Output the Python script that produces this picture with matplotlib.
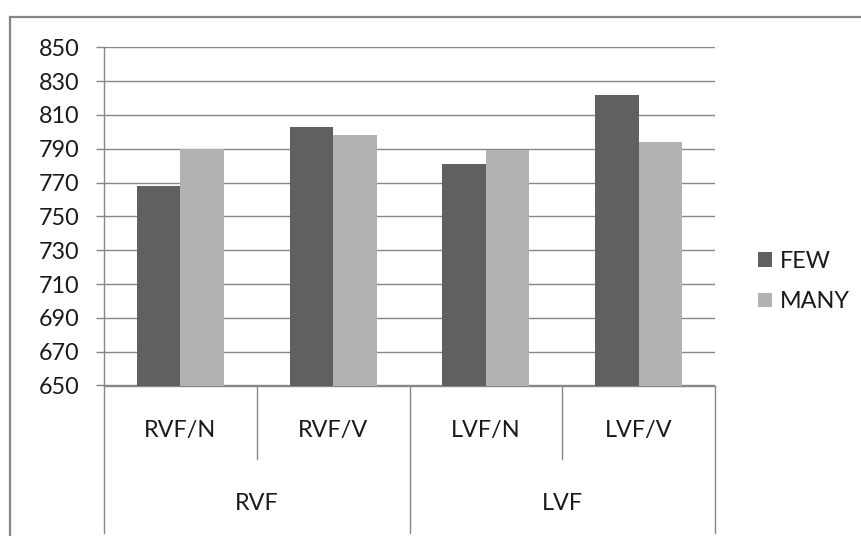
import matplotlib
matplotlib.use("Agg")
import matplotlib.pyplot as plt
from matplotlib.lines import Line2D
import matplotlib.transforms as mtransforms

plt.rcParams['font.family'] = ['Lato', 'DejaVu Sans']

# Data
conditions = ["RVF/N", "RVF/V", "LVF/N", "LVF/V"]
groups = ["RVF", "LVF"]
series_names = ["FEW", "MANY"]
few = [768, 803, 781, 822]
many = [790, 798, 789, 794]
y_ticks = list(range(650, 851, 20))

few_color = "#606060"
many_color = "#b2b2b2"
line_color = "#878787"
text_color = "#1a1a1a"
fs = 16.8

W, H = 862, 536
fig = plt.figure(figsize=(W / 100, H / 100), dpi=100)
fig.patch.set_facecolor("white")

# Plot area in pixels: x 104..715, y 47..385.5
ax = fig.add_axes([104 / W, (H - 385.5) / H, (715 - 104) / W, (385.5 - 47.3) / H])

x = list(range(len(conditions)))
bw = 0.284
b1 = ax.bar([i - bw / 2 for i in x], few, width=bw, bottom=0, color=few_color,
            label=series_names[0], zorder=3)
b2 = ax.bar([i + bw / 2 for i in x], many, width=bw, color=many_color,
            label=series_names[1], zorder=3)

ax.set_ylim(650, 850)
ax.set_xlim(-0.5, len(conditions) - 0.5)
ax.set_yticks(y_ticks)
ax.set_yticklabels([str(v) for v in y_ticks], fontsize=fs, color=text_color)
ax.set_xticks([])
ax.grid(axis="y", color=line_color, linewidth=1.0, zorder=0)
ax.set_axisbelow(True)
ax.tick_params(axis="y", length=5.5, width=1.0, color=line_color, pad=12)

for side in ["top", "right"]:
    ax.spines[side].set_visible(False)
ax.spines["left"].set_color(line_color)
ax.spines["bottom"].set_color(line_color)
ax.spines["left"].set_linewidth(1.0)
ax.spines["bottom"].set_linewidth(1.0)

# Two-level category axis below the plot
trans = mtransforms.blended_transform_factory(ax.transData, ax.transAxes)
ax_h = 385.5 - 47.3
row1_bottom = -(459 - 385.5) / ax_h
row2_bottom = -(533 - 385.5) / ax_h
for xs in [0.5, 2.5]:
    ax.add_line(Line2D([xs, xs], [0, row1_bottom], transform=trans, color=line_color,
                       linewidth=1.0, clip_on=False))
for xs in [-0.5, 1.5, 3.5]:
    ax.add_line(Line2D([xs, xs], [0, row2_bottom], transform=trans, color=line_color,
                       linewidth=1.0, clip_on=False))

row1_y = -(430.5 - 385.5) / ax_h
row2_y = -(503 - 385.5) / ax_h
for i, lab in enumerate(conditions):
    ax.text(i, row1_y, lab, transform=trans, ha="center", va="center",
            fontsize=fs, color=text_color)
for j, lab in enumerate(groups):
    ax.text(2 * j + 0.5, row2_y, lab, transform=trans, ha="center", va="center",
            fontsize=fs, color=text_color)

# Legend
fig.legend(handles=[b1, b2], labels=series_names, loc="center left",
           bbox_to_anchor=(758 / W, (H - 281.5) / H), frameon=False,
           fontsize=fs, handlelength=0.58, handleheight=0.58, handletextpad=0.36,
           labelspacing=0.85, borderpad=0, borderaxespad=0, labelcolor=text_color)

# Chart border (top and left edges visible)
fig.add_artist(Line2D([10 / W, 10 / W], [0, (H - 17) / H], transform=fig.transFigure,
                      color=line_color, linewidth=1.6))
fig.add_artist(Line2D([10 / W, 1], [(H - 17) / H, (H - 17) / H], transform=fig.transFigure,
                      color=line_color, linewidth=1.6))

fig.savefig("out.png", dpi=100, facecolor="white")
